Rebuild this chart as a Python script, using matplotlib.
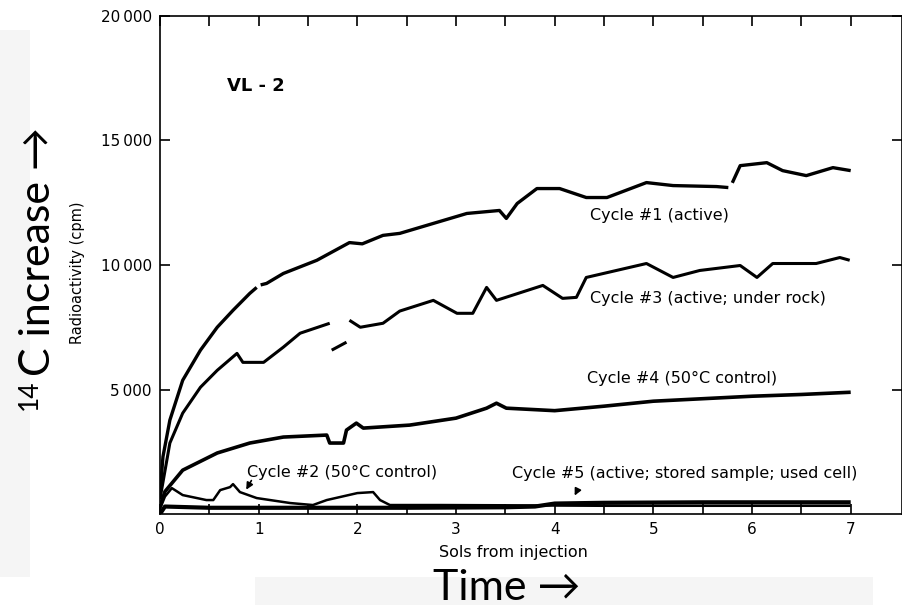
import numpy as np
import matplotlib
matplotlib.use("Agg")
import matplotlib.pyplot as plt
from matplotlib.patches import Rectangle
from matplotlib.ticker import FixedLocator

nan = np.nan

# Cycle #1 (active)
c1_t = [0, 0.03, 0.1, 0.23, 0.41, 0.58, 0.74, 0.91, 0.98, nan, 1.02, 1.08, 1.25, 1.59, 1.92,
        2.05, 2.26, 2.43, 2.77, 3.11, 3.44, 3.51, 3.62, 3.82, 4.05, 4.32, 4.53, 4.93, 5.20,
        5.64, 5.76, nan, 5.80, 5.88, 6.15, 6.31, 6.55, 6.82, 7.0]
c1_v = [800, 2300, 3770, 5370, 6580, 7500, 8180, 8860, 9100, nan, 9200, 9260, 9660, 10190, 10900,
        10850, 11190, 11270, 11670, 12070, 12190, 11870, 12470, 13070, 13070, 12710, 12710, 13310, 13190,
        13150, 13110, nan, 13300, 13990, 14110, 13790, 13590, 13910, 13790]

# Cycle #3 (active; under rock)
c3_t = [0, 0.1, 0.23, 0.41, 0.58, 0.78, 0.84, 1.05, 1.25, 1.42, 1.72, nan, 1.74, 1.89, nan,
        1.92, 2.03, 2.26, 2.43, 2.77, 3.01, 3.17, 3.31, 3.41, 3.88, 4.08, 4.22, 4.32, 4.93,
        5.20, 5.47, 5.88, 6.05, 6.21, 6.65, 6.89, 6.99]
c3_v = [600, 2850, 4050, 5090, 5770, 6450, 6090, 6090, 6700, 7260, 7660, nan, 6580, 6900, nan,
        7780, 7500, 7660, 8150, 8580, 8060, 8060, 9100, 8580, 9180, 8660, 8700, 9500, 10060,
        9500, 9780, 9980, 9500, 10060, 10060, 10300, 10190]

# Cycle #4 (50°C control)
c4_t = [0, 0.05, 0.23, 0.58, 0.91, 1.25, 1.69, 1.72, 1.86, 1.89, 1.99, 2.06, 2.53, 3.0,
        3.31, 3.41, 3.51, 4.0, 4.5, 5.0, 6.0, 6.5, 7.0]
c4_v = [300, 900, 1760, 2450, 2850, 3090, 3170, 2850, 2850, 3370, 3650, 3450, 3570, 3850,
        4250, 4450, 4250, 4150, 4330, 4530, 4730, 4800, 4890]

# Cycle #2 (50°C control)
c2_t = [0, 0.05, 0.12, 0.23, 0.47, 0.54, 0.61, 0.71, 0.74, 0.81, 0.98, 1.32, 1.55, 1.69,
        2.0, 2.16, 2.23, 2.33, 2.84, 3.5, 4.5, 5.5, 6.5, 7.0]
c2_v = [200, 700, 1040, 760, 560, 560, 960, 1080, 1200, 880, 640, 440, 360, 560,
        840, 880, 560, 360, 360, 350, 330, 330, 330, 330]

# Cycle #5 (active; stored sample; used cell)
c5_t = [0, 0.05, 0.5, 1.5, 2.5, 3.5, 3.8, 4.0, 4.5, 5.5, 6.5, 7.0]
c5_v = [0, 300, 250, 250, 250, 270, 300, 420, 450, 470, 470, 470]

x_ticks = [0, 1, 2, 3, 4, 5, 6, 7]
y_ticks = [5000, 10000, 15000, 20000]
y_tick_labels = ["5\u2009000", "10\u2009000", "15\u2009000", "20\u2009000"]

W, H = 903, 608
fig = plt.figure(figsize=(W / 100, H / 100), dpi=100)
ax = fig.add_axes([160 / W, 94 / H, 742 / W, 498 / H])

for t, v, lw in [(c1_t, c1_v, 2.4), (c3_t, c3_v, 2.2), (c4_t, c4_v, 2.6),
                 (c2_t, c2_v, 1.8), (c5_t, c5_v, 3.0)]:
    ax.plot(t, v, color="black", lw=lw, solid_capstyle="butt")

ax.set_xlim(0, 7.52)
ax.set_ylim(0, 20000)
ax.set_xticks(x_ticks)
ax.xaxis.set_minor_locator(FixedLocator([0.5, 1.5, 2.5, 3.5, 4.5, 5.5, 6.5]))
ax.set_yticks(y_ticks)
ax.set_yticklabels(y_tick_labels)
ax.tick_params(which="both", direction="in", top=True, right=True, length=7, width=1.2,
               labelsize=11, pad=6)
for s in ax.spines.values():
    s.set_linewidth(1.2)

fs = 11.5
ax.text(0.68, 17200, "VL - 2", fontsize=13, fontweight="bold", va="center")
ax.text(4.36, 11990, "Cycle #1 (active)", fontsize=fs, va="center")
ax.text(4.36, 8660, "Cycle #3 (active; under rock)", fontsize=fs, va="center")
ax.text(4.33, 5450, "Cycle #4 (50°C control)", fontsize=fs, va="center")
ax.text(0.88, 1680, "Cycle #2 (50°C control)", fontsize=fs, va="center")
ax.text(3.57, 1640, "Cycle #5 (active; stored sample; used cell)", fontsize=fs, va="center")
ax.annotate("", xy=(0.86, 880), xytext=(0.94, 1440),
            arrowprops=dict(arrowstyle="-|>", color="black", lw=1.2, mutation_scale=10))
ax.annotate("", xy=(4.19, 640), xytext=(4.24, 1040),
            arrowprops=dict(arrowstyle="-|>", color="black", lw=1.2, mutation_scale=10))

fig.text(78 / W, 1 - 273 / H, "Radioactivity (cpm)", rotation=90, fontsize=10.5,
         ha="center", va="center")
fig.text(513 / W, 1 - 553 / H, "Sols from injection", fontsize=11.5, ha="center", va="center")

# overlay annotations
fig.add_artist(Rectangle((0, 1 - 577 / H), 30 / W, 547 / H, transform=fig.transFigure,
                         facecolor="#f5f5f5", edgecolor="none", zorder=0))
fig.add_artist(Rectangle((255 / W, 1 - 605 / H), 618 / W, 28 / H, transform=fig.transFigure,
                         facecolor="#f5f5f5", edgecolor="none", zorder=0))
big = ["Lato", "DejaVu Sans"]
fig.text(38 / W, 1 - 251 / H, "C increase \u2192", rotation=90, fontsize=31, family=big,
         ha="center", va="center")
fig.text(29 / W, 1 - 395 / H, "14", rotation=90, fontsize=19, family=big,
         ha="center", va="center")
fig.text(507 / W, 1 - 588 / H, "Time \u2192", fontsize=31, family=big, ha="center", va="center")

fig.savefig("out.png", dpi=100)
